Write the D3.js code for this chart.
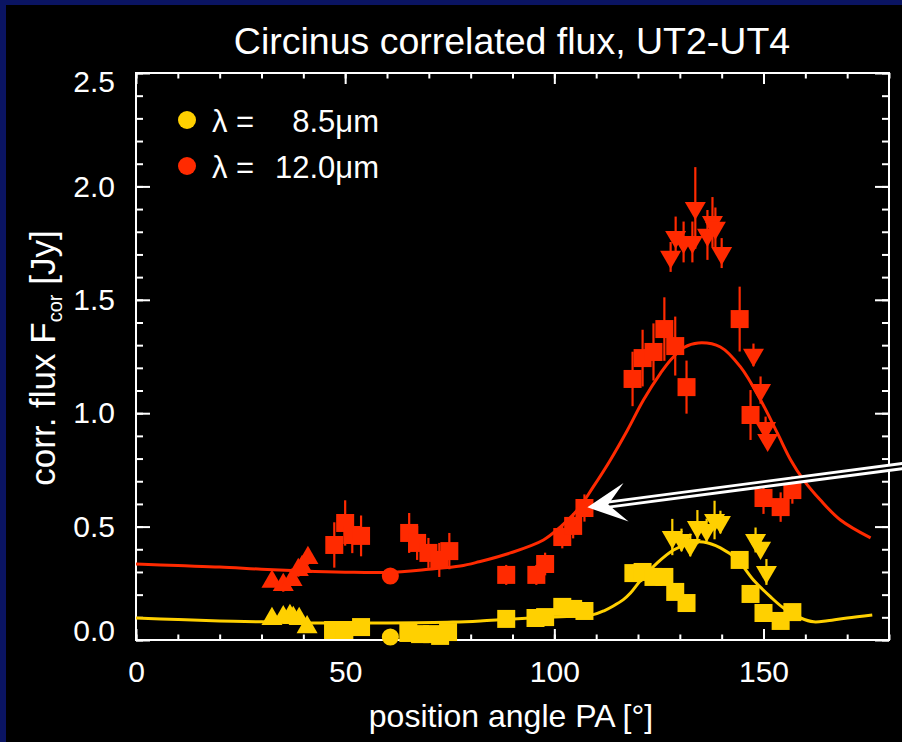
<!DOCTYPE html>
<html><head><meta charset="utf-8">
<script src="https://cdn.jsdelivr.net/npm/d3@7"></script>
<style>
html,body{margin:0;padding:0;background:#000;}
svg{display:block;}
</style></head><body>
<svg id="chart" width="902" height="742"></svg>
<script>
// ---------- data ----------
const xMajorTicks = [0, 50, 100, 150];
const xMinorTicks = [0,10,20,30,40,50,60,70,80,90,100,110,120,130,140,150,160,170,180];
const yMajorTicks = [0.0, 0.5, 1.0, 1.5, 2.0, 2.5];
const yTickLabels = ["0.0", "0.5", "1.0", "1.5", "2.0", "2.5"];
const yMinorTicks = [0,0.1,0.2,0.3,0.4,0.5,0.6,0.7,0.8,0.9,1.0,1.1,1.2,1.3,1.4,1.5,1.6,1.7,1.8,1.9,2.0,2.1,2.2,2.3,2.4,2.5];

// [PA, flux, error]  lambda = 12.0 um
const red12Up = [[32.5,0.257,0.02],[35.2,0.243,0.03],[37.3,0.265,0.02],[38.8,0.309,0.03],[39.7,0.322,0.02],[41.1,0.362,0.03]];
const red12Squares = [
  [47.4,0.419,0.10],[50.0,0.516,0.10],[51.7,0.463,0.08],[53.8,0.459,0.09],
  [65.3,0.472,0.088],[67.2,0.428,0.075],[69.9,0.384,0.066],[72.5,0.353,0.075],[74.9,0.392,0.08],
  [88.5,0.287,0.044],[95.7,0.287,0.044],[97.8,0.335,0.05],[101.9,0.454,0.05],[104.5,0.503,0.055],[107.2,0.582,0.06],
  [118.7,1.151,0.12],[121.1,1.243,0.125],[123.7,1.270,0.126],[126.3,1.371,0.14],[128.9,1.296,0.13],[131.6,1.115,0.117],
  [144.3,1.415,0.143],[146.9,0.992,0.11],[150.0,0.626,0.07],[154.1,0.586,0.065],[156.9,0.661,0.06]];
const red12Circle = [[60.8,0.282,0.02]];
const red12Down = [[133.7,1.905,0.18],[127.8,1.689,0.066],[129.0,1.777,0.09],[130.9,1.755,0.09],[133.0,1.755,0.09],
  [136.6,1.786,0.11],[137.8,1.843,0.11],[138.5,1.817,0.09],[140.0,1.706,0.066],
  [147.6,1.257,0.05],[149.3,1.102,0.06],[150.5,0.935,0.05],[151.0,0.882,0.04]];
const red12Model = [[0,0.335],[10,0.328],[20,0.322],[30,0.312],[40,0.304],[50,0.299],[60,0.298],[70,0.312],[77.5,0.326],
  [82,0.345],[89.5,0.384],[97.4,0.441],[101.4,0.498],[105.5,0.573],[109.3,0.675],[113.4,0.794],[117.5,0.926],
  [121.3,1.058],[125.4,1.177],[127.8,1.235],[131,1.290],[134.4,1.310],[139.7,1.292],[144.5,1.204],[149.3,1.058],
  [153.3,0.913],[156.5,0.794],[159.6,0.705],[163.6,0.617],[168.4,0.529],[175.6,0.450]];

// lambda = 8.5 um
const yel85Up = [[32.5,0.093,0.01],[35.2,0.101,0.01],[36.8,0.106,0.01],[37.6,0.097,0.01],[39.0,0.093,0.01],[40.9,0.057,0.01]];
const yel85Squares = [
  [47.1,0.044,0.01],[49.8,0.044,0.01],[53.8,0.057,0.01],[65.1,0.031,0.01],[67.9,0.026,0.01],[70.8,0.026,0.01],
  [72.7,0.018,0.01],[74.6,0.035,0.01],[88.5,0.093,0.01],[95.5,0.097,0.01],[97.8,0.101,0.01],[101.9,0.146,0.012],
  [104.5,0.137,0.012],[107.2,0.128,0.012],[118.9,0.295,0.015],[121.1,0.300,0.015],[123.7,0.278,0.015],[126.3,0.278,0.015],
  [128.9,0.212,0.015],[131.6,0.163,0.015],[144.3,0.353,0.02],[146.9,0.203,0.02],[150.0,0.119,0.015],[154.1,0.084,0.015],[156.9,0.123,0.015]];
const yel85Circle = [[60.8,0.013,0.01]];
const yel85Down = [[128.2,0.454,0.08],[130.4,0.441,0.05],[132.5,0.419,0.05],[134.2,0.498,0.075],[136.4,0.485,0.05],
  [138.3,0.529,0.085],[139.7,0.520,0.05],[148.1,0.441,0.055],[149.3,0.406,0.03],[150.7,0.300,0.057]];
const yel85Model = [[0,0.097],[10,0.090],[20,0.084],[30,0.080],[44,0.075],[60,0.075],[75.8,0.079],[82.3,0.084],[90.2,0.093],
  [100,0.101],[105,0.106],[109.3,0.112],[112,0.130],[114.1,0.150],[116.5,0.178],[118.2,0.207],[120.6,0.262],[124.6,0.340],
  [128.5,0.397],[132.5,0.428],[135.6,0.432],[139.7,0.406],[143.8,0.353],[147.6,0.265],[151.7,0.190],[154.8,0.141],
  [158.9,0.097],[162,0.080],[165.3,0.085],[170,0.097],[176,0.110]];

const legendLabels = ["\u03bb =", "\u03bb ="];
const legendValues = ["8.5\u03bcm", "12.0\u03bcm"];
const legendColors = ["#ffd000", "#ff2a00"];

// annotation arrow (data coords): tip at the 12 um point near PA 107
const arrowTip = [107.9, 0.585];
const arrowTail = [184.5, 0.770];

// ---------- drawing ----------
const W = 902, H = 742;
const FONT = "'Liberation Sans', Arial, Helvetica, sans-serif";
const RED = "#ff2a00", YEL = "#ffd000";
const svg = d3.select("#chart");
svg.append("rect").attr("width", W).attr("height", H).attr("fill", "#000");
svg.append("rect").attr("x",0).attr("y",0).attr("width",W).attr("height",5).attr("fill","#0a1462");
svg.append("rect").attr("x",0).attr("y",0).attr("width",6).attr("height",H).attr("fill","#0a1462");

const x = d3.scaleLinear().domain([0, 180]).range([136, 889]);
const y = d3.scaleLinear().domain([0, 2.5]).range([640, 73]);

function styleAxis(g, fs) {
  g.select(".domain").remove();
  g.selectAll("line").attr("stroke", "#fff").attr("stroke-width", 2);
  g.selectAll("text").attr("fill", "#fff").style("font-family", FONT).style("font-size", fs + "px");
}
// bottom
svg.append("g").attr("transform", `translate(0,${y(0)})`)
  .call(d3.axisBottom(x).tickValues(xMinorTicks).tickSize(-5.5).tickSizeOuter(0).tickFormat(""))
  .call(g => styleAxis(g, 30));
svg.append("g").attr("transform", `translate(0,${y(0)})`)
  .call(d3.axisBottom(x).tickValues(xMajorTicks).tickSize(-11).tickSizeOuter(0).tickPadding(21).tickFormat(d3.format("d")))
  .call(g => styleAxis(g, 30));
// top
svg.append("g").attr("transform", `translate(0,${y(2.5)})`)
  .call(d3.axisTop(x).tickValues(xMinorTicks).tickSize(-5.5).tickSizeOuter(0).tickFormat(""))
  .call(g => styleAxis(g, 30));
svg.append("g").attr("transform", `translate(0,${y(2.5)})`)
  .call(d3.axisTop(x).tickValues(xMajorTicks).tickSize(-11).tickSizeOuter(0).tickFormat(""))
  .call(g => styleAxis(g, 30));
// left
svg.append("g").attr("transform", `translate(${x(0)},0)`)
  .call(d3.axisLeft(y).tickValues(yMinorTicks).tickSize(-7).tickSizeOuter(0).tickFormat(""))
  .call(g => styleAxis(g, 30));
const gl = svg.append("g").attr("transform", `translate(${x(0)},0)`)
  .call(d3.axisLeft(y).tickValues(yMajorTicks).tickSize(-14).tickSizeOuter(0).tickPadding(21).tickFormat((d, i) => yTickLabels[i]))
  .call(g => styleAxis(g, 30));
gl.selectAll(".tick text").attr("dy", (d, i) => i === 0 ? "0.02em" : (i === yMajorTicks.length - 1 ? "0.62em" : "0.32em"));
// right
svg.append("g").attr("transform", `translate(${x(180)},0)`)
  .call(d3.axisRight(y).tickValues(yMinorTicks).tickSize(-7).tickSizeOuter(0).tickFormat(""))
  .call(g => styleAxis(g, 30));
svg.append("g").attr("transform", `translate(${x(180)},0)`)
  .call(d3.axisRight(y).tickValues(yMajorTicks).tickSize(-14).tickSizeOuter(0).tickFormat(""))
  .call(g => styleAxis(g, 30));
// frame
svg.append("rect").attr("x", x(0)).attr("y", y(2.5)).attr("width", x(180) - x(0)).attr("height", y(0) - y(2.5))
  .attr("fill", "none").attr("stroke", "#fff").attr("stroke-width", 2);

// model curves
const line = d3.line().x(d => x(d[0])).y(d => y(d[1])).curve(d3.curveCatmullRom.alpha(0.5));
svg.append("path").datum(red12Model).attr("d", line).attr("fill", "none").attr("stroke", RED).attr("stroke-width", 3);
svg.append("path").datum(yel85Model).attr("d", line).attr("fill", "none").attr("stroke", YEL).attr("stroke-width", 3);

// data points
const symSquare = d3.symbol().type(d3.symbolSquare).size(324)();
const symTri = d3.symbol().type(d3.symbolTriangle).size(191)();
const symCirc = d3.symbol().type(d3.symbolCircle).size(230)();
function drawSet(data, color, path, rot) {
  const g = svg.append("g");
  g.selectAll("line").data(data).join("line")
    .attr("x1", d => x(d[0])).attr("x2", d => x(d[0]))
    .attr("y1", d => y(d[1] - d[2])).attr("y2", d => y(d[1] + d[2]))
    .attr("stroke", color).attr("stroke-width", 2.2);
  g.selectAll("path").data(data).join("path")
    .attr("d", path)
    .attr("transform", d => `translate(${x(d[0])},${y(d[1])}) rotate(${rot})`)
    .attr("fill", color);
}
drawSet(red12Up, RED, symTri, 0);
drawSet(red12Squares, RED, symSquare, 0);
drawSet(red12Circle, RED, symCirc, 0);
drawSet(red12Down, RED, symTri, 180);
drawSet(yel85Up, YEL, symTri, 0);
drawSet(yel85Squares, YEL, symSquare, 0);
drawSet(yel85Circle, YEL, symCirc, 0);
drawSet(yel85Down, YEL, symTri, 180);

// arrow annotation
(function () {
  const tx = x(arrowTip[0]), ty = y(arrowTip[1]);
  const ex = x(arrowTail[0]), ey = y(arrowTail[1]);
  const L = Math.hypot(ex - tx, ey - ty);
  const ux = (ex - tx) / L, uy = (ey - ty) / L;
  const nx = -uy, ny = ux;
  const P = (a, b) => [tx + a * ux + b * nx, ty + a * uy + b * ny];
  const s = P(21, 0);
  svg.append("line").attr("x1", s[0]).attr("y1", s[1]).attr("x2", ex).attr("y2", ey)
    .attr("stroke", "#fff").attr("stroke-width", 8);
  svg.append("line").attr("x1", s[0]).attr("y1", s[1]).attr("x2", ex).attr("y2", ey)
    .attr("stroke", "#000").attr("stroke-width", 2.2);
  const w1 = P(39, -19.5), w2 = P(39, 19.5), nt = P(21, 0);
  svg.append("path")
    .attr("d", `M${tx},${ty}L${w1[0]},${w1[1]}L${nt[0]},${nt[1]}L${w2[0]},${w2[1]}Z`)
    .attr("fill", "#fff");
})();

// legend
legendLabels.forEach((lab, i) => {
  const ly = 120 + i * 46;
  svg.append("circle").attr("cx", 187).attr("cy", ly).attr("r", 9).attr("fill", legendColors[i]);
  svg.append("text").attr("x", 212).attr("y", ly + 12).text(lab)
    .attr("fill", "#fff").style("font-family", FONT).style("font-size", "31px");
  svg.append("text").attr("x", 379).attr("y", ly + 12).attr("text-anchor", "end").text(legendValues[i])
    .attr("fill", "#fff").style("font-family", FONT).style("font-size", "31px");
});

// title
svg.append("text").attr("x", 512).attr("y", 54).attr("text-anchor", "middle")
  .text("Circinus correlated flux, UT2-UT4")
  .attr("fill", "#fff").style("font-family", FONT).style("font-size", "37.5px");
// x label
svg.append("text").attr("x", 511).attr("y", 727).attr("text-anchor", "middle")
  .text("position angle PA [\u00b0]")
  .attr("fill", "#fff").style("font-family", FONT).style("font-size", "32px");
// y label
const yl = svg.append("text").attr("transform", "translate(55,358) rotate(-90)").attr("text-anchor", "middle")
  .attr("fill", "#fff").style("font-family", FONT).style("font-size", "35px");
yl.append("tspan").text("corr. flux F");
yl.append("tspan").attr("dy", 7).style("font-size", "20px").text("cor");
yl.append("tspan").attr("dy", -7).text(" [Jy]");
</script>
</body></html>
